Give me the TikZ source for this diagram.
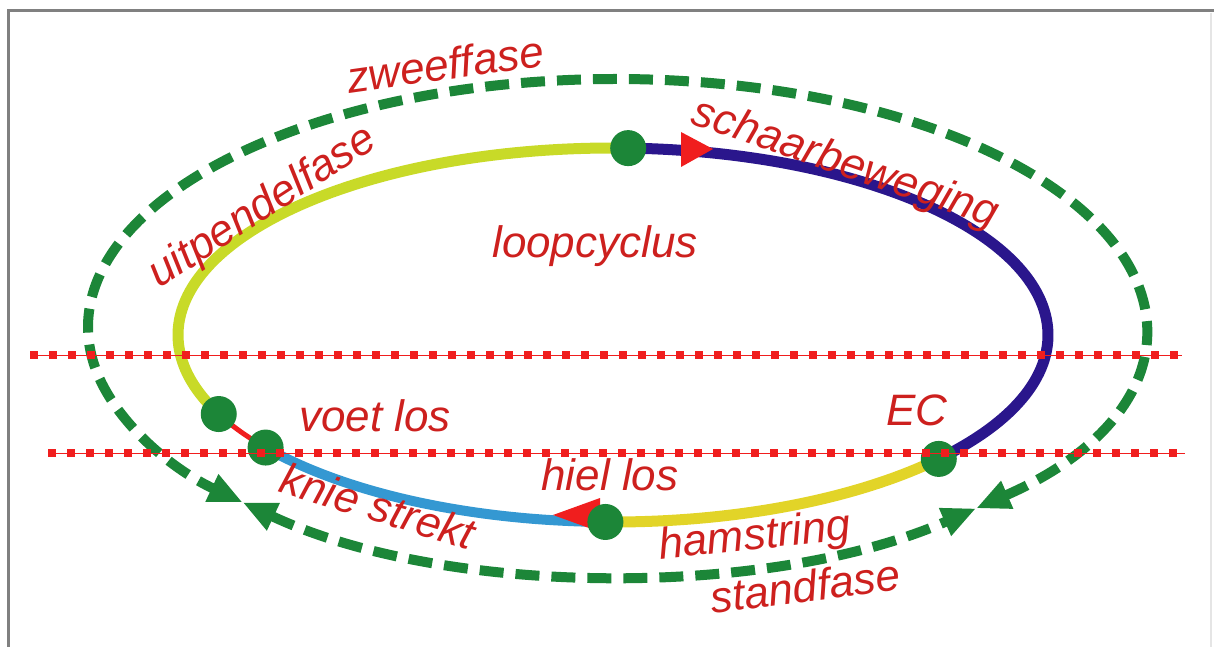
\documentclass[tikz,border=0pt]{standalone}
\usepackage{fontspec}
\setmainfont{Liberation Sans}
\usetikzlibrary{arrows.meta}
\definecolor{lbl}{RGB}{205,32,30}
\definecolor{dotred}{RGB}{240,30,30}
\definecolor{dotgreen}{RGB}{28,134,56}
\definecolor{ygreen}{RGB}{200,218,40}
\definecolor{gold}{RGB}{226,212,40}
\definecolor{navy}{RGB}{42,22,140}
\definecolor{skyblue}{RGB}{52,152,210}
\begin{document}
\begin{tikzpicture}[x=1pt,y=-1pt]
  \tikzset{ dot/.style={circle,fill=dotgreen,inner sep=0pt,minimum size=36pt},
    lab/.style={text=lbl,font=\fontsize{44}{48}\selectfont\itshape,inner sep=0pt},
    phase/.style={dotgreen,line width=10pt,dash pattern=on 24pt off 12pt,
      {Triangle[length=34pt,width=28pt]}-{Triangle[length=34pt,width=28pt]}},
    cyc/.style={line width=11pt},
    hline/.style={dotred,line width=8pt,dash pattern=on 8pt off 11pt},
  }
  \useasboundingbox (0,0) rectangle (1214,647);
  % frame
  \draw[gray,line width=3pt] (8,647) -- (8,11) -- (1214,11);
  \draw[gray!20,line width=1.5pt] (1211,13) -- (1211,647);

  \coordinate (c) at (613,335);
  \coordinate (o) at (616,327);

  % zweeffase / standfase
  \coordinate (L) at ([shift={(135:528 and 248)}]o);
  \coordinate (R) at ([shift={(47:528 and 248)}]o);
  \draw[phase] (R) arc[start angle=47,end angle=-225,x radius=528,y radius=248];
  \draw[phase] (L) arc[start angle=135,end angle=47,x radius=528,y radius=248];

  % the walking cycle
  \coordinate (top) at ([shift={(-88:435 and 187)}]c);
  \coordinate (vl) at ([shift={(155:435 and 187)}]c);
  \coordinate (ks) at ([shift={(143:435 and 187)}]c);
  \coordinate (hl) at ([shift={(91:435 and 187)}]c);
  \coordinate (ec) at ([shift={(41.5:435 and 187)}]c);
  \draw[cyc,ygreen] (top) arc[start angle=272,end angle=155,x radius=435,y radius=187];
  \draw[dotred,line width=5pt] (vl) arc[start angle=155,end angle=143,x radius=435,y radius=187];
  \draw[cyc,skyblue,line width=10pt] (ks) arc[start angle=143,end angle=91,x radius=435,y radius=187];
  \draw[cyc,gold] (hl) arc[start angle=91,end angle=41.5,x radius=435,y radius=187];
  \draw[cyc,navy] (ec) arc[start angle=41.5,end angle=-88,x radius=435,y radius=187];

  % arrow heads
  \fill[dotred] (681,132) -- (713,149) -- (681,167) -- cycle;
  \fill[dotred] (600,498) -- (553,515) -- (600,532) -- cycle;

  \node[dot] (d1) at (top) {};
  \node[dot] (d2) at (vl) {};
  \node[dot] (d3) at (ks) {};
  \node[dot] (d4) at (hl) {};
  \node[dot] (d5) at (ec) {};

  % the two levels
  \draw[dotred,line width=1pt] (30,355) -- (1182,355);
  \draw[hline] (30,355) -- (1182,355);
  \draw[dotred,line width=1pt] (48,453) -- (1185,453);
  \draw[hline] (48,453) -- (1185,453);

  \node[lab,rotate=8] (zw) at (445,64) {zweeffase};
  \node[lab,rotate=33] (up) at (263,208) {uitpendelfase};
  \node[lab,rotate=-19] (sb) at (845,165) {schaarbeweging};
  \node[lab] (lc) at (595,246) {loopcyclus};
  \node[lab] (vo) at (375,416) {voet los};
  \node[lab] (EC) at (917,410) {EC};
  \node[lab] (hi) at (610,475) {hiel los};
  \node[lab,rotate=-17] (kn) at (378,506) {knie strekt};
  \node[lab,rotate=6] (ha) at (755,538) {hamstring};
  \node[lab,rotate=7] (st) at (805,586) {standfase};
\end{tikzpicture}
\end{document}
